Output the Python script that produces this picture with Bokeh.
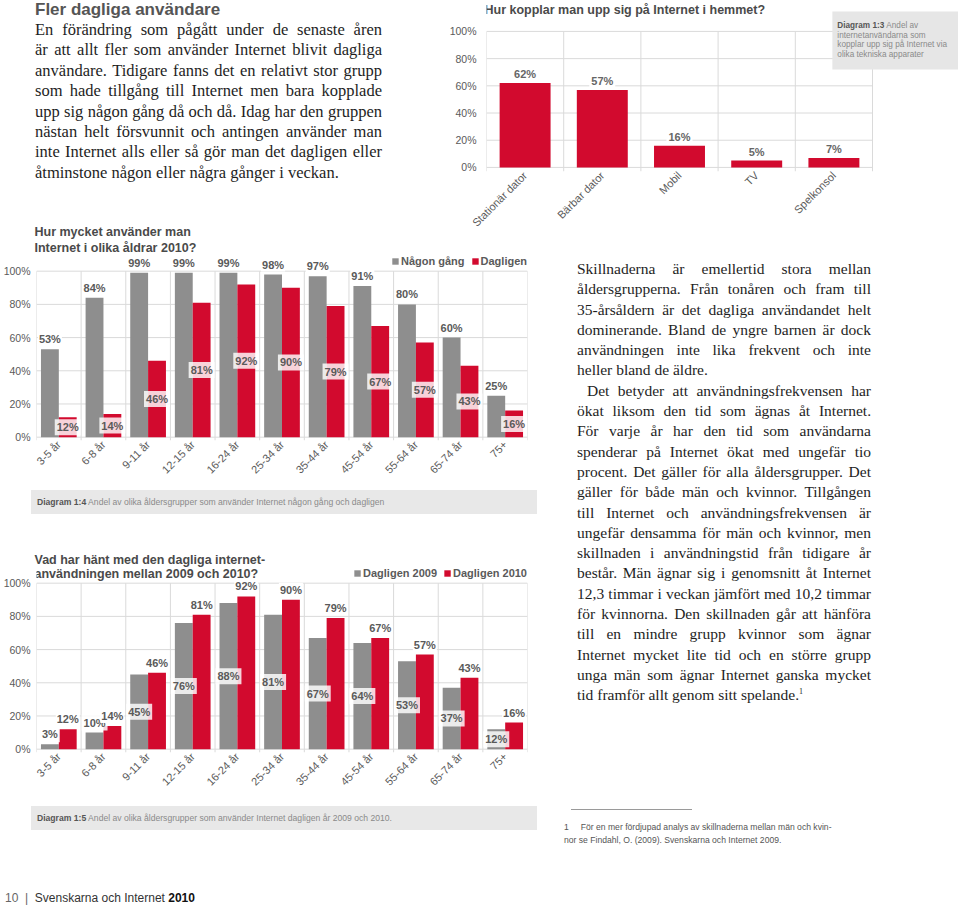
from math import pi
from bokeh.plotting import figure
from bokeh.models import FixedTicker, Div, Title, Spacer
from bokeh.layouts import row, column
from bokeh.embed import file_html
from bokeh.resources import INLINE
from bokeh.core.properties import value

# ---------------- data ----------------
devices = ["Stationär dator", "Bärbar dator", "Mobil", "TV", "Spelkonsol"]
device_share = [62, 57, 16, 5, 7]

age_groups = ["3-5 år", "6-8 år", "9-11 år", "12-15 år", "16-24 år", "25-34 år",
              "35-44 år", "45-54 år", "55-64 år", "65-74 år", "75+"]
nagon_gang_2010 = [53, 84, 99, 99, 99, 98, 97, 91, 80, 60, 25]
dagligen_2010 = [12, 14, 46, 81, 92, 90, 79, 67, 57, 43, 16]
dagligen_2009 = [3, 10, 45, 76, 88, 81, 67, 64, 53, 37, 12]

pct_ticks = [0, 20, 40, 60, 80, 100]
pct_labels = ["0%", "20%", "40%", "60%", "80%", "100%"]

# ---------------- styles ----------------
SANS = "Liberation Sans"
SERIF = "Liberation Serif"
RED = "#d20a2e"
GRAY = "#8e8e8e"
GRID = "#dadada"
TITLE_C = "#4a4a4a"
LABEL_C = "#5a5a5a"


def pct(v):
    return f"{v}%"


def base_fig(cats, frame_w, frame_h, x_end, y_start, y_end, mb_left, mb_bottom,
             mb_top, mb_right, lab_size, xlab_size, y_standoff, x_standoff, tick_low):
    n = len(cats)
    p = figure(frame_width=frame_w, frame_height=frame_h, x_range=(0, x_end),
               y_range=(y_start, y_end), min_border_left=mb_left,
               min_border_bottom=mb_bottom, min_border_top=mb_top,
               min_border_right=mb_right, output_backend="svg",
               toolbar_location=None, tools="", title=None)
    p.outline_line_color = None
    p.background_fill_color = "white"
    p.border_fill_color = "white"
    p.xgrid.visible = False
    p.ygrid.visible = False
    for ax in (p.xaxis[0], p.yaxis[0]):
        ax.axis_line_color = None
        ax.major_tick_line_color = None
        ax.minor_tick_line_color = None
        ax.major_tick_in = 0
        ax.major_tick_out = 0
        ax.minor_tick_in = 0
        ax.minor_tick_out = 0
        ax.major_label_text_font = SANS
        ax.major_label_text_color = LABEL_C
    p.yaxis.major_label_text_font_size = lab_size
    p.xaxis.major_label_text_font_size = xlab_size
    p.yaxis.ticker = FixedTicker(ticks=pct_ticks)
    p.yaxis.major_label_overrides = dict(zip(pct_ticks, pct_labels))
    p.yaxis.major_label_standoff = y_standoff
    centers = [i + 0.5 for i in range(n)]
    p.xaxis.ticker = FixedTicker(ticks=centers)
    p.xaxis.major_label_overrides = dict(zip(centers, cats))
    p.xaxis.major_label_orientation = pi / 4
    p.xaxis.major_label_standoff = x_standoff
    b = list(range(n + 1))
    p.segment(x0=b, y0=[tick_low] * len(b), x1=b, y1=[100] * len(b),
              line_color=GRID, line_width=1)
    p.segment(x0=[0] * len(pct_ticks), y0=pct_ticks, x1=[n] * len(pct_ticks),
              y1=pct_ticks, line_color=GRID, line_width=1)
    return p


def style_legend(p):
    lg = p.legend[0]
    lg.location = "top_right"
    lg.orientation = "horizontal"
    lg.label_text_font = SANS
    lg.label_text_font_size = "11px"
    lg.label_text_font_style = "bold"
    lg.label_text_color = LABEL_C
    lg.glyph_width = 8
    lg.glyph_height = 8
    lg.label_height = 14
    lg.label_standoff = 2
    lg.spacing = 6
    lg.padding = 0
    lg.margin = 0
    lg.background_fill_alpha = 0
    lg.border_line_color = None


# ---------------- Diagram 1:3 ----------------
PX13 = 1.36
y13_end = -3 + 169 / PX13
x13_end = 472 / 386 * len(devices)
p13 = base_fig(devices, 472, 169, x13_end, -3, y13_end, 46, 56, 2, 0,
               "10.5px", "11px", 10, 2, -3)
cx13 = [i + 0.5 for i in range(len(devices))]
p13.vbar(x=cx13, top=device_share, width=0.66, fill_color=RED, line_color=None)
p13.text(x=cx13, y=device_share, text=[pct(v) for v in device_share],
         text_font=value(SANS), text_font_size="11px", text_font_style="bold",
         text_color="#666666", text_align="center", text_baseline="bottom",
         y_offset=-1, background_fill_color="white", padding=2)
p13.text(x=[0], y=[y13_end], text=["Hur kopplar man upp sig på Internet i hemmet?"],
         text_font=value(SANS), text_font_size="12.5px", text_font_style="bold",
         text_color=TITLE_C, text_align="left", text_baseline="top", x_offset=-2)
box_l, box_t, box_b = 4.48, 114.6, 72.0
p13.quad(left=[box_l], right=[x13_end], top=[box_t], bottom=[box_b],
         fill_color="#e6e6e6", line_color=None)
p13.text(x=[box_l], y=[box_t], text=["Diagram 1:3"], text_font=value(SANS),
         text_font_size="8.2px", text_font_style="bold", text_color="#555555",
         text_baseline="middle", x_offset=5, y_offset=14)
cap13 = ["Andel av", "internetanvändarna som", "kopplar upp sig på Internet via",
         "olika tekniska apparater"]
p13.text(x=[box_l] * 4, y=[box_t] * 4, text=cap13, text_font=value(SANS),
         text_font_size="8.2px", text_color="#8a8a8a", text_baseline="middle",
         x_offset=[54, 5, 5, 5], y_offset=[14, 23.7, 33.4, 43.1])

# ---------------- Diagram 1:4 ----------------
PX = 1.66
y_end = -2 + 186 / PX
n_age = len(age_groups)
xg = [i + 0.3 for i in range(n_age)]
xr = [i + 0.7 for i in range(n_age)]

p14 = base_fig(age_groups, 491, 186, n_age, -2, y_end, 35, 44, 30, 5,
               "10.5px", "11px", 6, 2, -2)
p14.border_fill_alpha = 0
p14.add_layout(Title(text="Internet i olika åldrar 2010?", align="left",
                     text_font=SANS, text_font_size="12.5px", text_font_style="bold",
                     text_color=TITLE_C, standoff=0, offset=-2), "above")
p14.add_layout(Title(text="Hur mycket använder man", align="left",
                     text_font=SANS, text_font_size="12.5px", text_font_style="bold",
                     text_color=TITLE_C, standoff=0, offset=-2), "above")
p14.vbar(x=xg, top=nagon_gang_2010, width=0.4, fill_color=GRAY, line_color=None,
         legend_label="Någon gång")
p14.vbar(x=xr, top=dagligen_2010, width=0.4, fill_color=RED, line_color=None,
         legend_label="Dagligen")
p14.text(x=xg, y=nagon_gang_2010, text=[pct(v) for v in nagon_gang_2010],
         text_font=value(SANS), text_font_size="11px", text_font_style="bold",
         text_color=LABEL_C, text_align="center", text_baseline="bottom",
         y_offset=-3, background_fill_color="white", padding=1)
p14.text(x=xr, y=[v / 2 for v in dagligen_2010], text=[pct(v) for v in dagligen_2010],
         text_font=value(SANS), text_font_size="11px", text_font_style="bold",
         text_color=LABEL_C, text_align="center", text_baseline="middle",
         background_fill_color="white", background_fill_alpha=0.82, padding=2)
style_legend(p14)

# ---------------- Diagram 1:5 ----------------
p15 = base_fig(age_groups, 491, 186, n_age, -2, y_end, 35, 44, 15, 5,
               "10.5px", "11px", 6, 2, -2)
p15.add_layout(Title(text="Vad har hänt med den dagliga internet-", align="left",
                     text_font=SANS, text_font_size="12.5px", text_font_style="bold",
                     text_color=TITLE_C, standoff=0, offset=-2), "above")
p15.text(x=[0], y=[y_end], text=["användningen mellan 2009 och 2010?"],
         text_font=value(SANS), text_font_size="12.5px", text_font_style="bold",
         text_color=TITLE_C, text_align="left", text_baseline="top", x_offset=-2)
p15.vbar(x=xg, top=dagligen_2009, width=0.4, fill_color=GRAY, line_color=None,
         legend_label="Dagligen 2009")
p15.vbar(x=xr, top=dagligen_2010, width=0.4, fill_color=RED, line_color=None,
         legend_label="Dagligen 2010")
inside = [v >= 12 for v in dagligen_2009]
p15.text(x=[x for x, k in zip(xg, inside) if k],
         y=[v / 2 for v, k in zip(dagligen_2009, inside) if k],
         text=[pct(v) for v, k in zip(dagligen_2009, inside) if k],
         text_font=value(SANS), text_font_size="11px", text_font_style="bold",
         text_color=LABEL_C, text_align="center", text_baseline="middle",
         background_fill_color="white", background_fill_alpha=0.82, padding=2)
p15.text(x=[x for x, k in zip(xg, inside) if not k],
         y=[v for v, k in zip(dagligen_2009, inside) if not k],
         text=[pct(v) for v, k in zip(dagligen_2009, inside) if not k],
         text_font=value(SANS), text_font_size="11px", text_font_style="bold",
         text_color=LABEL_C, text_align="center", text_baseline="bottom",
         y_offset=-2, background_fill_color="white", background_fill_alpha=0.82,
         padding=2)
p15.text(x=xr, y=dagligen_2010, text=[pct(v) for v in dagligen_2010],
         text_font=value(SANS), text_font_size="11px", text_font_style="bold",
         text_color=LABEL_C, text_align="center", text_baseline="bottom",
         y_offset=-3, background_fill_color="white", padding=1)
style_legend(p15)

# ---------------- text blocks ----------------
intro_lines = [
    "En förändring som pågått under de senaste åren",
    "är att allt fler som använder Internet blivit dagliga",
    "användare. Tidigare fanns det en relativt stor grupp",
    "som hade tillgång till Internet men bara kopplade",
    "upp sig någon gång då och då. Idag har den gruppen",
    "nästan helt försvunnit och antingen använder man",
    "inte Internet alls eller så gör man det dagligen eller",
    "åtminstone någon eller några gånger i veckan.",
]
body_lines = [
    "Skillnaderna är emellertid stora mellan",
    "åldersgrupperna. Från tonåren och fram till",
    "35-årsåldern är det dagliga användandet helt",
    "dominerande. Bland de yngre barnen är dock",
    "användningen inte lika frekvent och inte",
    "heller bland de äldre.",
    "Det betyder att användningsfrekvensen har",
    "ökat liksom den tid som ägnas åt Internet.",
    "För varje år har den tid som användarna",
    "spenderar på Internet ökat med ungefär tio",
    "procent. Det gäller för alla åldersgrupper. Det",
    "gäller för både män och kvinnor. Tillgången",
    "till Internet och användningsfrekvensen är",
    "ungefär densamma för män och kvinnor, men",
    "skillnaden i användningstid från tidigare år",
    "består. Män ägnar sig i genomsnitt åt Internet",
    "12,3 timmar i veckan jämfört med 10,2 timmar",
    "för kvinnorna. Den skillnaden går att hänföra",
    "till en mindre grupp kvinnor som ägnar",
    "Internet mycket lite tid och en större grupp",
    "unga män som ägnar Internet ganska mycket",
    "tid framför allt genom sitt spelande.",
]
last_para_lines = {5, 21}
indent_lines = {6}


def just_line(t, last=False, indent=False):
    st = "text-align:justify;text-align-last:justify;" if not last else "text-align:left;"
    if indent:
        st += "text-indent:10px;"
    return f"<div style='{st}'>{t}</div>"


intro_html = (
    "<div style=\"padding-left:35px;color:#1e1e1e;\">"
    f"<div style=\"font-family:'{SANS}';font-weight:bold;font-size:17px;line-height:18px;"
    "color:#555555;margin-top:1px;\">Fler dagliga användare</div>"
    f"<div style=\"font-family:'{SERIF}';font-size:16.5px;line-height:20.4px;width:347px;"
    "margin-top:1px;\">"
    + "".join(just_line(t, last=(i == len(intro_lines) - 1)) for i, t in enumerate(intro_lines))
    + "</div></div>"
)
div_intro = Div(text=intro_html, width=440, height=220, margin=0)

body_parts = []
for i, t in enumerate(body_lines):
    if i == len(body_lines) - 1:
        t = t + "<span style='font-size:8px;vertical-align:6px;line-height:0;'>1</span>"
    body_parts.append(just_line(t, last=(i in last_para_lines), indent=(i in indent_lines)))

right_html = (
    f"<div style=\"padding-left:32px;padding-top:37px;font-family:'{SERIF}';"
    "font-size:15.5px;line-height:20.3px;color:#1e1e1e;\">"
    "<div style='width:294px;'>" + "".join(body_parts) + "</div>"
    "<div style='margin-top:103px;margin-left:-6px;width:121px;border-top:1px solid #9a9a9a;'></div>"
    f"<div style=\"margin-top:11px;margin-left:-13px;width:320px;font-family:'{SANS}';"
    "font-size:8.6px;line-height:13px;color:#555555;\">"
    "1&nbsp;&nbsp;&nbsp;&nbsp;&nbsp;För en mer fördjupad analys av skillnaderna mellan män och kvin-<br>"
    "nor se Findahl, O. (2009). Svenskarna och Internet 2009.</div>"
    "</div>"
)
div_right = Div(text=right_html, width=340, height=600, margin=0)


def caption(label, txt, top):
    html = (
        f"<div style=\"margin-left:31px;margin-top:{top}px;width:506px;height:24px;"
        f"background:#e8e8e8;font-family:'{SANS}';font-size:8.6px;line-height:24px;"
        "color:#8a8a8a;padding-left:6px;box-sizing:border-box;white-space:nowrap;\">"
        f"<b style='color:#555555;'>{label}</b> {txt}</div>"
    )
    return Div(text=html, width=545, height=top + 24, margin=0)


cap14 = caption("Diagram 1:4",
                "Andel av olika åldersgrupper som använder Internet någon gång och dagligen", 6)
cap15 = caption("Diagram 1:5",
                "Andel av olika åldersgrupper som använder Internet dagligen år 2009 och 2010.", 10)

footer = Div(text=(
    f"<div style=\"font-family:'{SANS}';font-size:12px;line-height:14px;padding-left:5px;\">"
    "<span style='color:#666666;'>10&nbsp;&nbsp;|&nbsp;&nbsp;</span>"
    "<span style='color:#333333;'>Svenskarna och Internet</span> "
    "<b style='color:#111111;'>2010</b></div>"), width=300, height=15, margin=0)

layout = column(
    row(div_intro, p13),
    row(column(p14, cap14, Spacer(height=36), p15, cap15), div_right,
        margin=(-14, 0, 0, 0)),
    Spacer(height=60),
    footer,
)

html = file_html(layout, INLINE, title="Fler dagliga användare")
open("out.html", "w").write(html)
